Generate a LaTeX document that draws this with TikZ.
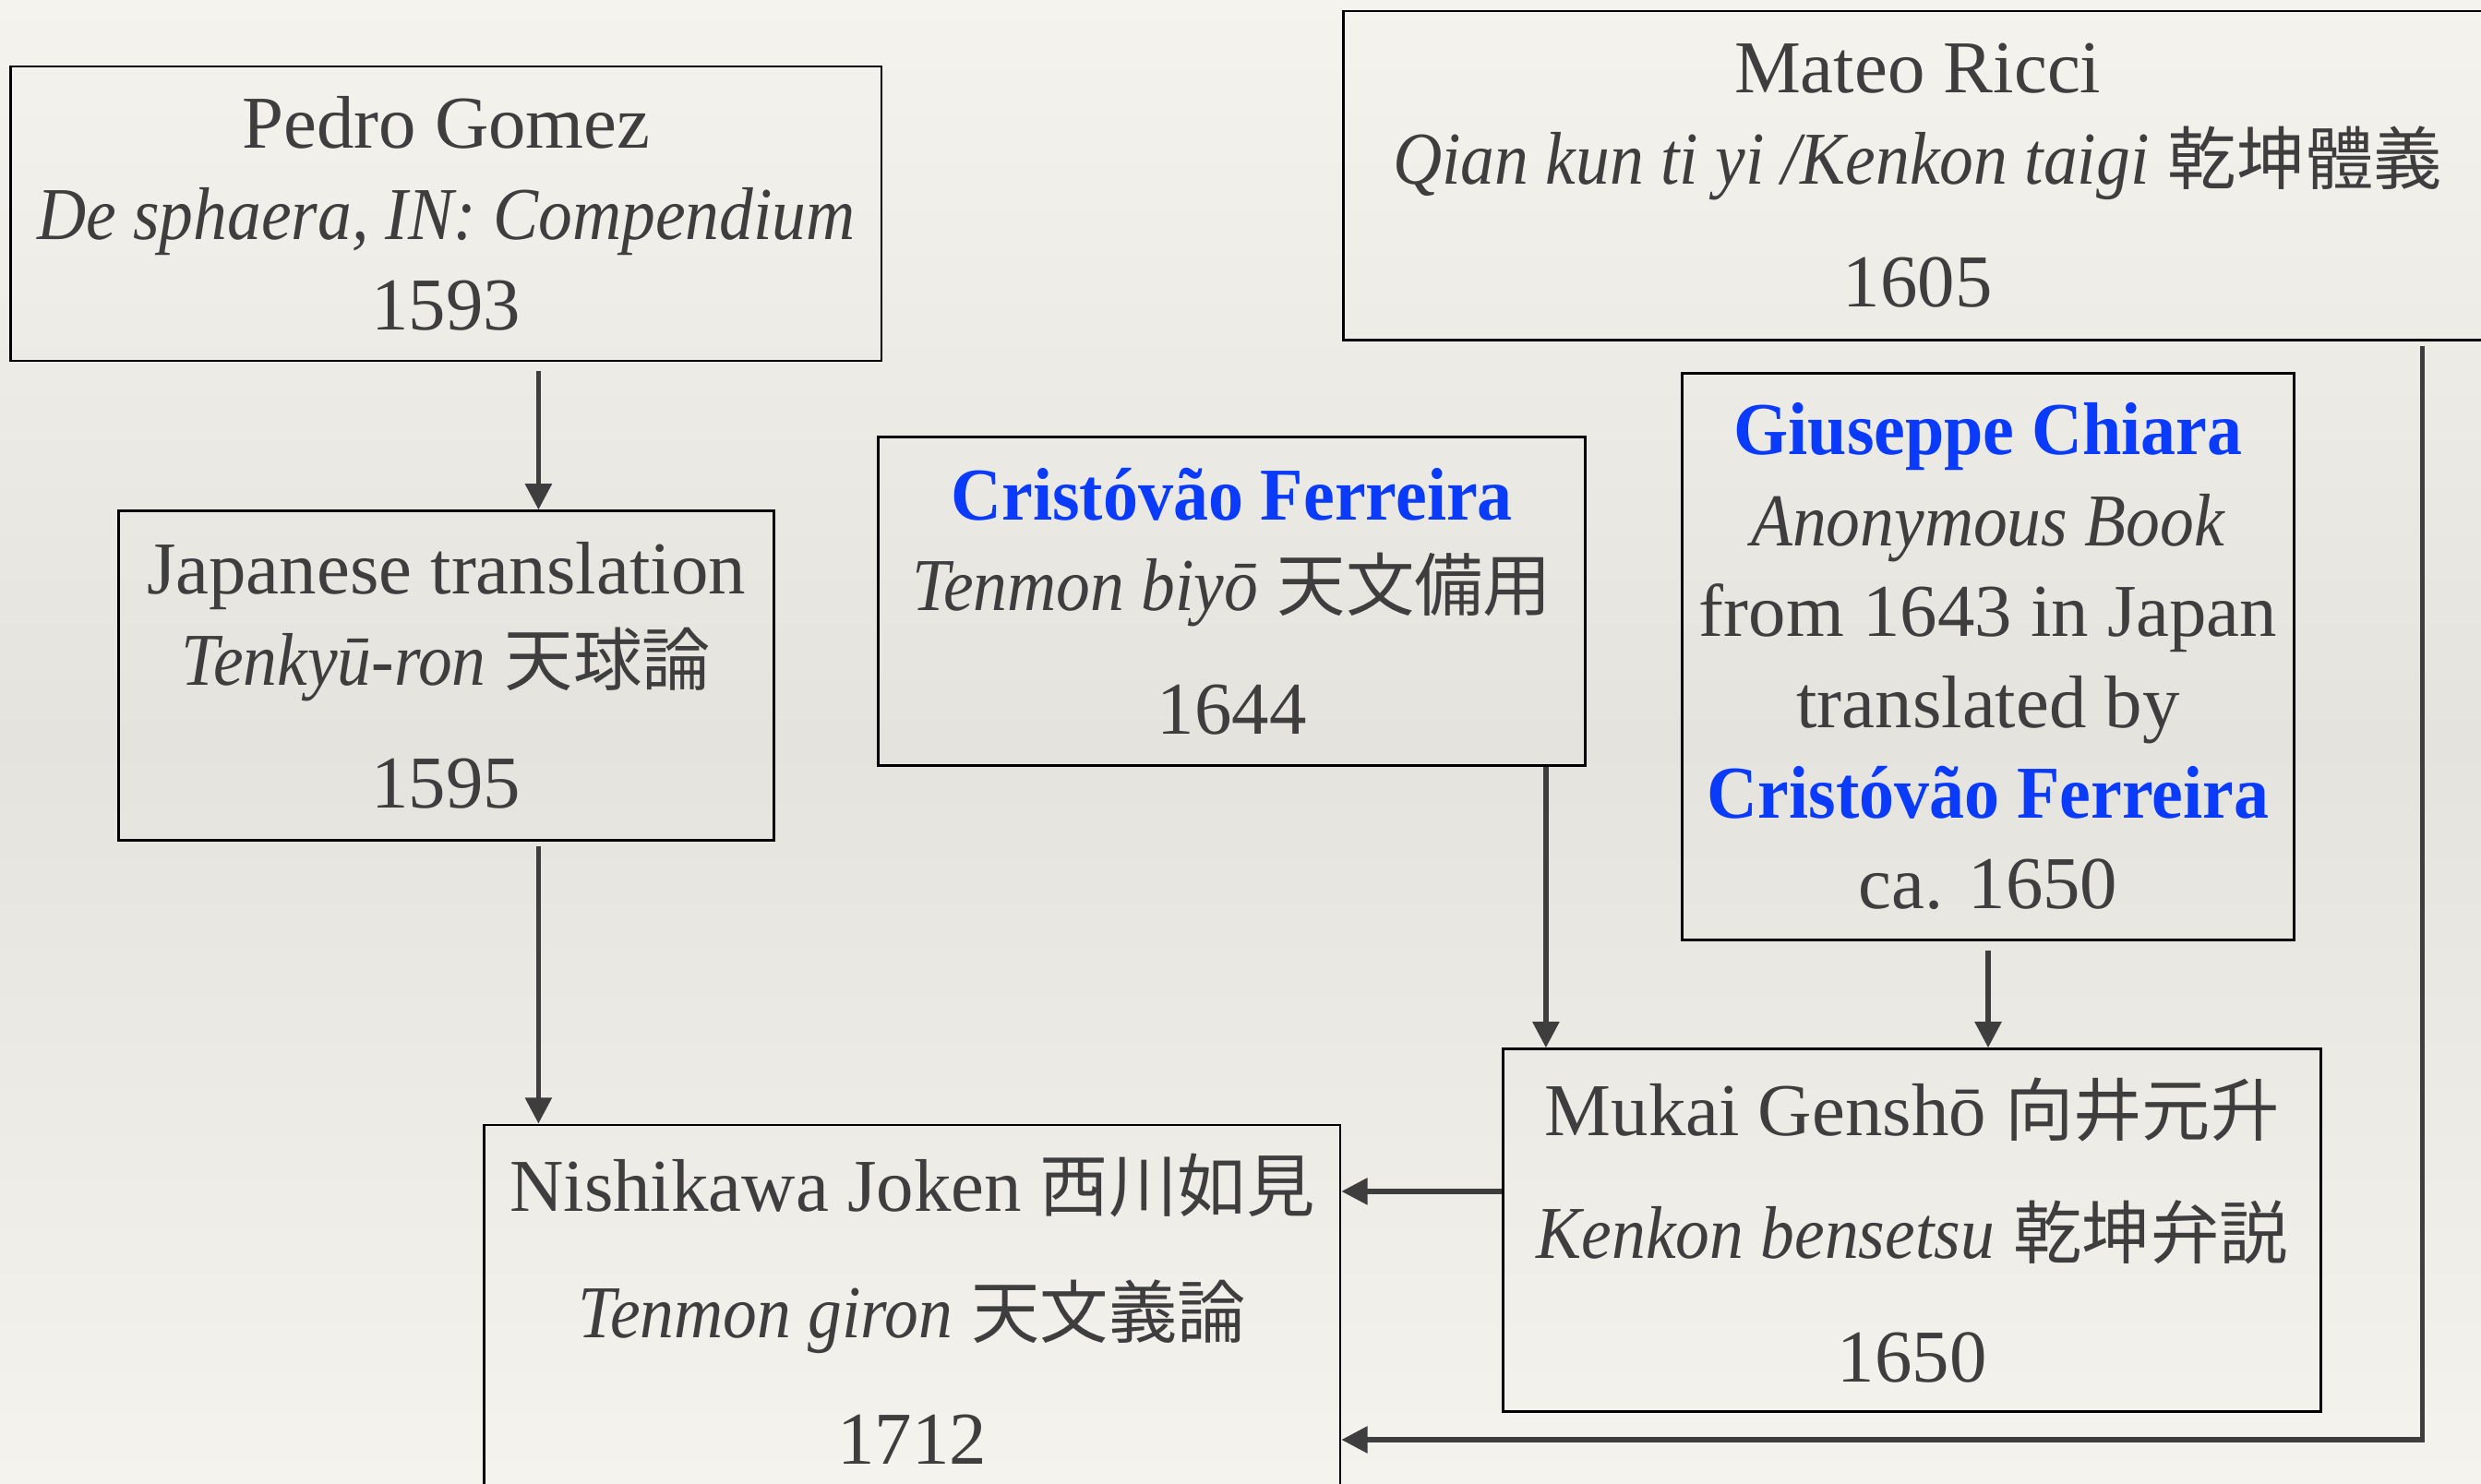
\documentclass[tikz,border=0pt]{standalone}
\usepackage{fontspec}
\setmainfont{Liberation Serif}[ItalicFeatures={FakeStretch=0.91},BoldFeatures={FakeStretch=0.94}]
\newfontfamily\cjk[Scale=0.92]{Noto Sans CJK JP}
\usetikzlibrary{arrows.meta}
\definecolor{ink}{RGB}{62,62,62}
\definecolor{namecol}{RGB}{10,58,250}
\definecolor{paper}{RGB}{245,243,238}
\definecolor{paperdark}{RGB}{229,227,222}
\newcommand{\who}[1]{\textcolor{namecol}{\textbf{#1}}}
\tikzset{
  book/.style={draw=black,line width=0.8pt,shape=rectangle,inner sep=0pt,
    align=center,text=ink,font=\fontsize{23}{28}\selectfont},
  link/.style={draw=ink,line width=1.5pt,-{Triangle[length=8pt,width=8pt]}}
}
\begin{document}
\begin{tikzpicture}
\useasboundingbox (0,0) rectangle (26.88,-16.07);
\clip (0,0) rectangle (26.88,-16.07);
\shade[top color=paper,bottom color=paper,middle color=paperdark] (0,0) rectangle (26.88,-16.07);
% books
\node [book,name=pedro,minimum width=9.43cm,minimum height=3.19cm] at (4.834,-2.315)
  {Pedro Gomez\\ \textit{De sphaera, IN: Compendium}\\ 1593};
\node [book,name=japan,minimum width=7.10cm,minimum height=3.566cm] at (4.834,-7.32)
  {Japanese translation\\ \textit{Tenkyū-ron} {\cjk 天球論}\\[10pt] 1595};
\node [book,name=ferreira,minimum width=7.663cm,minimum height=3.566cm] at (13.346,-6.514)
  {\who{Cristóvão Ferreira}\\ \textit{Tenmon biyō} {\cjk 天文備用}\\[10pt] 1644};
\node [book,name=ricci,minimum width=12.446cm,minimum height=3.566cm] at (20.777,-1.903)
  {Mateo Ricci\\ \textit{Qian kun ti yi /Kenkon taigi} {\cjk 乾坤體義}\\[10pt] 1605};
\node [book,name=chiara,minimum width=6.634cm,minimum height=6.137cm] at (21.54,-7.114)
  {\who{Giuseppe Chiara}\\ \textit{Anonymous Book}\\ from 1643 in Japan\\ translated by\\ \who{Cristóvão Ferreira}\\ ca. 1650};
\node [book,name=mukai,minimum width=8.863cm,minimum height=3.925cm] at (20.717,-13.329)
  {Mukai Genshō {\cjk 向井元升}\\[10pt] \textit{Kenkon bensetsu} {\cjk 乾坤弁説}\\[10pt] 1650};
\node [book,name=nishi,minimum width=9.274cm,minimum height=3.99cm] at (9.883,-14.184)
  {Nishikawa Joken {\cjk 西川如見}\\[11pt] \textit{Tenmon giron} {\cjk 天文義論}\\[11pt] 1712};
\coordinate (turn) at (26.246,-15.6);
% links
\draw[link,shorten <=0.1cm] ([xshift=1cm]pedro.south) -- ([xshift=1cm]japan.north);
\draw[link,shorten <=0.05cm] ([xshift=1cm]japan.south) -- ([xshift=1cm]japan.south |- nishi.north);
\draw[link] ([xshift=3.403cm]ferreira.south) -- ([xshift=3.403cm]ferreira.south |- mukai.north);
\draw[link,shorten <=0.1cm] (chiara.south) -- (chiara.south |- mukai.north);
\draw[link] ([yshift=0.42cm]mukai.west) -- ([yshift=0.42cm]mukai.west -| nishi.east);
\draw[link,shorten <=0.05cm] (ricci.south -| turn) -- (turn) -- (turn -| nishi.east);
\end{tikzpicture}
\end{document}
